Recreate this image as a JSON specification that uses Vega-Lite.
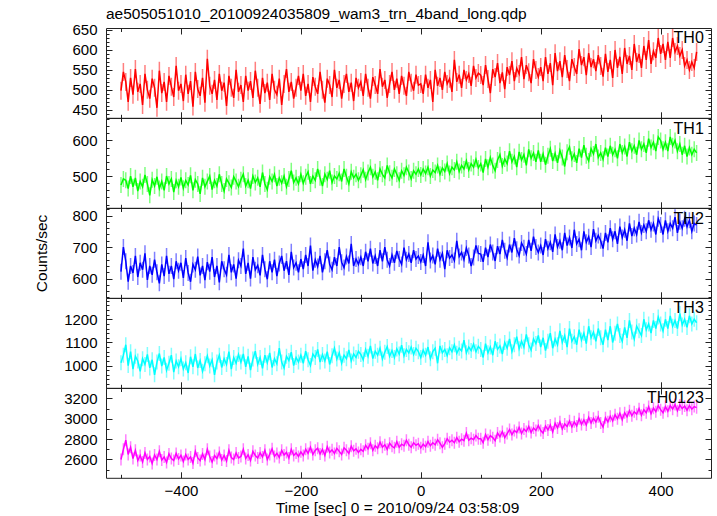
{
"$schema":"https://vega.github.io/schema/vega-lite/v6.json",
"padding":{"left":33,"top":6,"right":5,"bottom":5},
"title":{"text":"ae505051010_20100924035809_wam3_trn_4band_long.qdp","anchor":"start","frame":"group","fontSize":15.5,"fontWeight":"normal","font":"Liberation Sans","color":"black","baseline":"alphabetic","offset":-12},
"config":{"view":{"stroke":"#222","strokeWidth":1},"axis":{"grid":false,"domain":false,"tickColor":"#222","tickWidth":1,"labelColor":"black","labelFont":"Liberation Sans","labelFontSize":15,"titleFont":"Liberation Sans","titleFontSize":15.5,"titleFontWeight":"normal","titleColor":"black","labelFlush":false,"format":"d"}},
"data":{"values":[
{"t":-500,"a":498,"b":475,"c":622,"d":1012,"e":2600},
{"t":-496,"a":545,"b":492,"c":700,"d":1045,"e":2700},
{"t":-492,"a":520,"b":488,"c":655,"d":1090,"e":2790},
{"t":-488,"a":470,"b":465,"c":590,"d":1000,"e":2650},
{"t":-484,"a":530,"b":500,"c":640,"d":1060,"e":2720},
{"t":-480,"a":488,"b":470,"c":618,"d":985,"e":2610},
{"t":-476,"a":552,"b":495,"c":672,"d":1040,"e":2690},
{"t":-472,"a":495,"b":458,"c":605,"d":1020,"e":2590},
{"t":-468,"a":515,"b":485,"c":650,"d":975,"e":2640},
{"t":-464,"a":462,"b":470,"c":628,"d":1030,"e":2575},
{"t":-460,"a":540,"b":503,"c":680,"d":1005,"e":2665},
{"t":-456,"a":500,"b":478,"c":596,"d":1048,"e":2600},
{"t":-452,"a":478,"b":446,"c":640,"d":990,"e":2630},
{"t":-448,"a":528,"b":490,"c":612,"d":1025,"e":2560},
{"t":-444,"a":505,"b":472,"c":660,"d":960,"e":2645},
{"t":-440,"a":455,"b":498,"c":620,"d":1015,"e":2600},
{"t":-436,"a":548,"b":465,"c":585,"d":1052,"e":2680},
{"t":-432,"a":492,"b":485,"c":645,"d":998,"e":2595},
{"t":-428,"a":520,"b":460,"c":608,"d":1035,"e":2625},
{"t":-424,"a":470,"b":500,"c":672,"d":980,"e":2570},
{"t":-420,"a":535,"b":478,"c":615,"d":1010,"e":2655},
{"t":-416,"a":508,"b":492,"c":640,"d":1045,"e":2610},
{"t":-412,"a":482,"b":455,"c":598,"d":972,"e":2590},
{"t":-408,"a":560,"b":488,"c":655,"d":1020,"e":2660},
{"t":-404,"a":498,"b":470,"c":625,"d":995,"e":2605},
{"t":-400,"a":515,"b":496,"c":650,"d":1030,"e":2640},
{"t":-396,"a":472,"b":466,"c":602,"d":985,"e":2580},
{"t":-392,"a":538,"b":488,"c":665,"d":1012,"e":2650},
{"t":-388,"a":490,"b":475,"c":618,"d":968,"e":2600},
{"t":-384,"a":522,"b":502,"c":590,"d":1038,"e":2625},
{"t":-380,"a":458,"b":460,"c":645,"d":995,"e":2565},
{"t":-376,"a":545,"b":490,"c":628,"d":1050,"e":2680},
{"t":-372,"a":502,"b":478,"c":670,"d":990,"e":2615},
{"t":-368,"a":485,"b":450,"c":610,"d":1022,"e":2590},
{"t":-364,"a":530,"b":495,"c":640,"d":975,"e":2655},
{"t":-360,"a":468,"b":470,"c":595,"d":1008,"e":2600},
{"t":-356,"a":578,"b":485,"c":652,"d":1042,"e":2700},
{"t":-352,"a":510,"b":500,"c":622,"d":998,"e":2630},
{"t":-348,"a":490,"b":462,"c":668,"d":1025,"e":2575},
{"t":-344,"a":525,"b":488,"c":605,"d":960,"e":2640},
{"t":-340,"a":475,"b":472,"c":640,"d":1015,"e":2610},
{"t":-336,"a":540,"b":505,"c":588,"d":1045,"e":2670},
{"t":-332,"a":498,"b":478,"c":655,"d":992,"e":2595},
{"t":-328,"a":518,"b":458,"c":630,"d":1030,"e":2640},
{"t":-324,"a":460,"b":492,"c":612,"d":1005,"e":2585},
{"t":-320,"a":535,"b":480,"c":675,"d":1060,"e":2690},
{"t":-316,"a":505,"b":468,"c":620,"d":985,"e":2620},
{"t":-312,"a":480,"b":498,"c":645,"d":1035,"e":2600},
{"t":-308,"a":550,"b":485,"c":600,"d":1010,"e":2665},
{"t":-304,"a":495,"b":470,"c":658,"d":1048,"e":2615},
{"t":-300,"a":512,"b":490,"c":640,"d":1015,"e":2630},
{"t":-296,"a":470,"b":505,"c":695,"d":1050,"e":2700},
{"t":-292,"a":535,"b":472,"c":615,"d":995,"e":2610},
{"t":-288,"a":498,"b":488,"c":650,"d":1040,"e":2645},
{"t":-284,"a":522,"b":465,"c":600,"d":980,"e":2590},
{"t":-280,"a":480,"b":500,"c":668,"d":1028,"e":2680},
{"t":-276,"a":548,"b":482,"c":628,"d":1062,"e":2640},
{"t":-272,"a":505,"b":495,"c":642,"d":1005,"e":2615},
{"t":-268,"a":465,"b":470,"c":610,"d":1035,"e":2665},
{"t":-264,"a":530,"b":510,"c":675,"d":988,"e":2625},
{"t":-260,"a":492,"b":478,"c":630,"d":1045,"e":2690},
{"t":-256,"a":518,"b":462,"c":598,"d":1012,"e":2600},
{"t":-252,"a":475,"b":498,"c":655,"d":1055,"e":2650},
{"t":-248,"a":540,"b":485,"c":620,"d":992,"e":2705},
{"t":-244,"a":500,"b":505,"c":660,"d":1030,"e":2630},
{"t":-240,"a":488,"b":472,"c":608,"d":1008,"e":2660},
{"t":-236,"a":528,"b":495,"c":648,"d":1075,"e":2620},
{"t":-232,"a":462,"b":480,"c":672,"d":1015,"e":2690},
{"t":-228,"a":515,"b":500,"c":625,"d":990,"e":2645},
{"t":-224,"a":552,"b":470,"c":655,"d":1040,"e":2670},
{"t":-220,"a":495,"b":492,"c":612,"d":1022,"e":2615},
{"t":-216,"a":520,"b":515,"c":685,"d":1058,"e":2700},
{"t":-212,"a":478,"b":482,"c":635,"d":1000,"e":2640},
{"t":-208,"a":505,"b":495,"c":650,"d":1035,"e":2665},
{"t":-204,"a":535,"b":478,"c":620,"d":1015,"e":2630},
{"t":-200,"a":498,"b":505,"c":662,"d":1045,"e":2675},
{"t":-196,"a":540,"b":480,"c":630,"d":1010,"e":2640},
{"t":-192,"a":485,"b":498,"c":675,"d":1062,"e":2700},
{"t":-188,"a":515,"b":512,"c":640,"d":1025,"e":2660},
{"t":-184,"a":470,"b":478,"c":705,"d":1000,"e":2720},
{"t":-180,"a":532,"b":500,"c":625,"d":1050,"e":2650},
{"t":-176,"a":508,"b":488,"c":660,"d":1035,"e":2690},
{"t":-172,"a":490,"b":520,"c":638,"d":1070,"e":2710},
{"t":-168,"a":545,"b":495,"c":672,"d":1015,"e":2655},
{"t":-164,"a":500,"b":472,"c":620,"d":1048,"e":2700},
{"t":-160,"a":468,"b":505,"c":655,"d":1020,"e":2640},
{"t":-156,"a":528,"b":490,"c":690,"d":1060,"e":2725},
{"t":-152,"a":512,"b":515,"c":645,"d":1005,"e":2670},
{"t":-148,"a":482,"b":482,"c":628,"d":1042,"e":2695},
{"t":-144,"a":550,"b":500,"c":668,"d":1075,"e":2660},
{"t":-140,"a":505,"b":492,"c":640,"d":1028,"e":2710},
{"t":-136,"a":525,"b":508,"c":700,"d":1055,"e":2680},
{"t":-132,"a":478,"b":485,"c":652,"d":1010,"e":2650},
{"t":-128,"a":515,"b":520,"c":635,"d":1045,"e":2715},
{"t":-124,"a":540,"b":498,"c":670,"d":1030,"e":2690},
{"t":-120,"a":495,"b":478,"c":648,"d":1068,"e":2660},
{"t":-116,"a":518,"b":512,"c":710,"d":1020,"e":2730},
{"t":-112,"a":472,"b":495,"c":640,"d":1050,"e":2685},
{"t":-108,"a":530,"b":505,"c":662,"d":1035,"e":2705},
{"t":-104,"a":505,"b":488,"c":645,"d":1062,"e":2670},
{"t":-100,"a":520,"b":502,"c":668,"d":1048,"e":2700},
{"t":-96,"a":485,"b":518,"c":640,"d":1025,"e":2680},
{"t":-92,"a":540,"b":490,"c":685,"d":1070,"e":2740},
{"t":-88,"a":505,"b":510,"c":655,"d":1040,"e":2705},
{"t":-84,"a":478,"b":525,"c":695,"d":1085,"e":2760},
{"t":-80,"a":532,"b":498,"c":648,"d":1030,"e":2690},
{"t":-76,"a":512,"b":512,"c":672,"d":1062,"e":2735},
{"t":-72,"a":490,"b":488,"c":640,"d":1045,"e":2710},
{"t":-68,"a":552,"b":520,"c":690,"d":1075,"e":2770},
{"t":-64,"a":508,"b":505,"c":655,"d":1028,"e":2720},
{"t":-60,"a":525,"b":495,"c":700,"d":1058,"e":2745},
{"t":-56,"a":480,"b":530,"c":660,"d":1082,"e":2700},
{"t":-52,"a":515,"b":508,"c":640,"d":1040,"e":2760},
{"t":-48,"a":545,"b":495,"c":675,"d":1065,"e":2730},
{"t":-44,"a":500,"b":520,"c":650,"d":1035,"e":2715},
{"t":-40,"a":528,"b":505,"c":688,"d":1072,"e":2775},
{"t":-36,"a":490,"b":488,"c":662,"d":1050,"e":2720},
{"t":-32,"a":535,"b":515,"c":645,"d":1088,"e":2750},
{"t":-28,"a":510,"b":502,"c":698,"d":1042,"e":2735},
{"t":-24,"a":485,"b":525,"c":660,"d":1070,"e":2790},
{"t":-20,"a":545,"b":510,"c":678,"d":1055,"e":2745},
{"t":-16,"a":518,"b":492,"c":650,"d":1080,"e":2720},
{"t":-12,"a":498,"b":515,"c":690,"d":1048,"e":2765},
{"t":-8,"a":538,"b":505,"c":662,"d":1075,"e":2740},
{"t":-4,"a":512,"b":520,"c":672,"d":1060,"e":2755},
{"t":0,"a":515,"b":503,"c":653,"d":1035,"e":2715},
{"t":4,"a":490,"b":520,"c":675,"d":1067,"e":2750},
{"t":8,"a":538,"b":507,"c":640,"d":1045,"e":2725},
{"t":12,"a":505,"b":525,"c":715,"d":1080,"e":2775},
{"t":16,"a":525,"b":500,"c":657,"d":1030,"e":2735},
{"t":20,"a":470,"b":517,"c":673,"d":1060,"e":2765},
{"t":24,"a":550,"b":510,"c":645,"d":1075,"e":2745},
{"t":28,"a":510,"b":530,"c":695,"d":1010,"e":2795},
{"t":32,"a":530,"b":505,"c":660,"d":1085,"e":2760},
{"t":36,"a":500,"b":523,"c":680,"d":1055,"e":2720},
{"t":40,"a":545,"b":513,"c":630,"d":1070,"e":2755},
{"t":44,"a":515,"b":535,"c":690,"d":1043,"e":2805},
{"t":48,"a":528,"b":507,"c":665,"d":1077,"e":2770},
{"t":52,"a":495,"b":525,"c":675,"d":1060,"e":2790},
{"t":56,"a":575,"b":517,"c":657,"d":1090,"e":2765},
{"t":60,"a":520,"b":540,"c":720,"d":1053,"e":2815},
{"t":64,"a":538,"b":513,"c":670,"d":1075,"e":2775},
{"t":68,"a":505,"b":530,"c":683,"d":1063,"e":2800},
{"t":72,"a":550,"b":520,"c":660,"d":1110,"e":2785},
{"t":76,"a":525,"b":543,"c":697,"d":1055,"e":2860},
{"t":80,"a":540,"b":517,"c":673,"d":1080,"e":2790},
{"t":84,"a":510,"b":535,"c":640,"d":1065,"e":2810},
{"t":88,"a":560,"b":525,"c":667,"d":1093,"e":2795},
{"t":92,"a":530,"b":547,"c":705,"d":1060,"e":2835},
{"t":96,"a":542,"b":523,"c":680,"d":1083,"e":2805},
{"t":100,"a":537,"b":535,"c":678,"d":1070,"e":2805},
{"t":104,"a":512,"b":510,"c":653,"d":1035,"e":2765},
{"t":108,"a":562,"b":548,"c":698,"d":1095,"e":2845},
{"t":112,"a":527,"b":525,"c":668,"d":1055,"e":2795},
{"t":116,"a":492,"b":552,"c":708,"d":1080,"e":2835},
{"t":120,"a":552,"b":530,"c":683,"d":1045,"e":2815},
{"t":124,"a":532,"b":515,"c":656,"d":1105,"e":2785},
{"t":128,"a":567,"b":545,"c":703,"d":1070,"e":2860},
{"t":132,"a":517,"b":560,"c":678,"d":1085,"e":2825},
{"t":136,"a":544,"b":528,"c":723,"d":1050,"e":2875},
{"t":140,"a":502,"b":548,"c":688,"d":1100,"e":2815},
{"t":144,"a":557,"b":535,"c":666,"d":1075,"e":2855},
{"t":148,"a":537,"b":570,"c":708,"d":1115,"e":2895},
{"t":152,"a":572,"b":540,"c":683,"d":1060,"e":2845},
{"t":156,"a":522,"b":555,"c":728,"d":1090,"e":2885},
{"t":160,"a":554,"b":525,"c":693,"d":1125,"e":2865},
{"t":164,"a":540,"b":568,"c":673,"d":1073,"e":2915},
{"t":168,"a":582,"b":545,"c":713,"d":1105,"e":2855},
{"t":172,"a":527,"b":560,"c":698,"d":1080,"e":2900},
{"t":176,"a":562,"b":530,"c":678,"d":1135,"e":2875},
{"t":180,"a":544,"b":575,"c":723,"d":1090,"e":2925},
{"t":184,"a":517,"b":550,"c":688,"d":1067,"e":2865},
{"t":188,"a":577,"b":565,"c":733,"d":1115,"e":2910},
{"t":192,"a":550,"b":540,"c":700,"d":1095,"e":2885},
{"t":196,"a":532,"b":572,"c":683,"d":1130,"e":2935},
{"t":200,"a":557,"b":540,"c":705,"d":1080,"e":2885},
{"t":204,"a":522,"b":562,"c":675,"d":1120,"e":2860},
{"t":208,"a":582,"b":532,"c":725,"d":1065,"e":2930},
{"t":212,"a":540,"b":557,"c":695,"d":1105,"e":2890},
{"t":216,"a":567,"b":577,"c":715,"d":1140,"e":2940},
{"t":220,"a":512,"b":542,"c":685,"d":1075,"e":2870},
{"t":224,"a":592,"b":564,"c":740,"d":1115,"e":2955},
{"t":228,"a":547,"b":537,"c":700,"d":1090,"e":2910},
{"t":232,"a":572,"b":572,"c":720,"d":1150,"e":2970},
{"t":236,"a":532,"b":552,"c":690,"d":1100,"e":2900},
{"t":240,"a":587,"b":527,"c":745,"d":1130,"e":2950},
{"t":244,"a":552,"b":567,"c":705,"d":1080,"e":2925},
{"t":248,"a":522,"b":582,"c":730,"d":1160,"e":2980},
{"t":252,"a":577,"b":547,"c":697,"d":1105,"e":2920},
{"t":256,"a":557,"b":562,"c":755,"d":1125,"e":2970},
{"t":260,"a":540,"b":537,"c":710,"d":1090,"e":2930},
{"t":264,"a":602,"b":577,"c":725,"d":1155,"e":3000},
{"t":268,"a":562,"b":552,"c":690,"d":1110,"e":2945},
{"t":272,"a":582,"b":587,"c":750,"d":1140,"e":2990},
{"t":276,"a":537,"b":557,"c":715,"d":1095,"e":2940},
{"t":280,"a":592,"b":542,"c":733,"d":1170,"e":3015},
{"t":284,"a":557,"b":577,"c":700,"d":1120,"e":2960},
{"t":288,"a":577,"b":562,"c":757,"d":1145,"e":3005},
{"t":292,"a":547,"b":590,"c":720,"d":1105,"e":2970},
{"t":296,"a":587,"b":552,"c":737,"d":1160,"e":3020},
{"t":300,"a":560,"b":565,"c":720,"d":1120,"e":2960},
{"t":304,"a":533,"b":547,"c":695,"d":1090,"e":2920},
{"t":308,"a":590,"b":580,"c":745,"d":1155,"e":3010},
{"t":312,"a":545,"b":555,"c":715,"d":1110,"e":2970},
{"t":316,"a":575,"b":585,"c":760,"d":1170,"e":3025},
{"t":320,"a":530,"b":560,"c":725,"d":1100,"e":2980},
{"t":324,"a":600,"b":575,"c":750,"d":1140,"e":3040},
{"t":328,"a":555,"b":550,"c":710,"d":1180,"e":3000},
{"t":332,"a":583,"b":590,"c":765,"d":1130,"e":3055},
{"t":336,"a":540,"b":565,"c":730,"d":1105,"e":2990},
{"t":340,"a":605,"b":583,"c":755,"d":1165,"e":3060},
{"t":344,"a":565,"b":555,"c":720,"d":1120,"e":3020},
{"t":348,"a":585,"b":595,"c":775,"d":1195,"e":3080},
{"t":352,"a":550,"b":570,"c":735,"d":1145,"e":3030},
{"t":356,"a":615,"b":585,"c":760,"d":1115,"e":3070},
{"t":360,"a":570,"b":560,"c":740,"d":1170,"e":3045},
{"t":364,"a":590,"b":600,"c":780,"d":1150,"e":3100},
{"t":368,"a":555,"b":575,"c":745,"d":1130,"e":3035},
{"t":372,"a":610,"b":590,"c":770,"d":1200,"e":3090},
{"t":376,"a":575,"b":565,"c":750,"d":1155,"e":3060},
{"t":380,"a":625,"b":605,"c":785,"d":1180,"e":3120},
{"t":384,"a":565,"b":580,"c":755,"d":1140,"e":3050},
{"t":388,"a":597,"b":595,"c":775,"d":1195,"e":3105},
{"t":392,"a":580,"b":570,"c":740,"d":1160,"e":3070},
{"t":396,"a":630,"b":610,"c":790,"d":1210,"e":3130},
{"t":400,"a":590,"b":600,"c":770,"d":1180,"e":3090},
{"t":404,"a":615,"b":575,"c":740,"d":1150,"e":3060},
{"t":408,"a":575,"b":595,"c":785,"d":1200,"e":3120},
{"t":412,"a":620,"b":570,"c":750,"d":1160,"e":3075},
{"t":416,"a":580,"b":610,"c":775,"d":1215,"e":3130},
{"t":420,"a":630,"b":585,"c":760,"d":1170,"e":3095},
{"t":424,"a":595,"b":600,"c":795,"d":1195,"e":3140},
{"t":428,"a":610,"b":570,"c":745,"d":1160,"e":3080},
{"t":432,"a":585,"b":590,"c":780,"d":1225,"e":3135},
{"t":436,"a":600,"b":560,"c":760,"d":1175,"e":3100},
{"t":440,"a":560,"b":585,"c":790,"d":1200,"e":3125},
{"t":444,"a":575,"b":555,"c":765,"d":1165,"e":3085},
{"t":448,"a":550,"b":580,"c":785,"d":1215,"e":3130},
{"t":452,"a":570,"b":560,"c":750,"d":1180,"e":3095},
{"t":456,"a":555,"b":575,"c":775,"d":1200,"e":3120},
{"t":460,"a":595,"b":565,"c":770,"d":1185,"e":3110}
]},
"spacing":0,
"bounds":"flush",
"vconcat":[
{"width":605,"height":89.8,
"layer":[
{"mark":{"type":"tick","orient":"vertical","color":"#ff0000","size":18,"thickness":1.5,"opacity":0.5,"clip":true},
"encoding":{"x":{"field":"t","type":"quantitative","scale":{"domain":[-525,484],"nice":false,"zero":false},"axis":{"orient":"top","values":[-400,-200,0,200,400],"labels":false,"tickSize":-6,"title":null}},
"y":{"field":"a","type":"quantitative","scale":{"domain":[430,655],"nice":false,"zero":false},"axis":{"orient":"right","values":[450,500,550,600,650],"labels":false,"tickSize":-6,"title":null}}}},
{"mark":{"type":"line","color":"#ff0000","strokeWidth":1.5,"clip":true},
"encoding":{"x":{"field":"t","type":"quantitative","scale":{"domain":[-525,484],"nice":false,"zero":false},"axis":{"orient":"bottom","values":[-400,-200,0,200,400],"labels":false,"tickSize":-6,"title":null}},
"y":{"field":"a","type":"quantitative","scale":{"domain":[430,655],"nice":false,"zero":false},"axis":{"orient":"left","values":[450,500,550,600,650],"tickSize":-6,"labelPadding":15,"title":null}}}},
{"mark":{"type":"line","opacity":0},
"encoding":{"x":{"field":"t","type":"quantitative","scale":{"domain":[-525,484],"nice":false,"zero":false},"axis":{"orient":"bottom","values":[-500,-300,-100,100,300],"labels":false,"tickSize":-3.5,"title":null}},
"y":{"field":"a","type":"quantitative","scale":{"domain":[430,655],"nice":false,"zero":false},"axis":{"orient":"left","values":[440,460,470,480,490,510,520,530,540,560,570,580,590,610,620,630,640],"labels":false,"tickSize":-3,"title":null}}}},
{"mark":{"type":"line","opacity":0},
"encoding":{"x":{"field":"t","type":"quantitative","scale":{"domain":[-525,484],"nice":false,"zero":false},"axis":{"orient":"top","values":[-500,-300,-100,100,300],"labels":false,"tickSize":-3.5,"title":null}},
"y":{"field":"a","type":"quantitative","scale":{"domain":[430,655],"nice":false,"zero":false},"axis":{"orient":"right","values":[440,460,470,480,490,510,520,530,540,560,570,580,590,610,620,630,640],"labels":false,"tickSize":-3,"title":null}}}},
{"data":{"values":[{"label":"TH0"}]},
"mark":{"type":"text","align":"right","baseline":"middle","fontSize":16,"font":"Liberation Sans","color":"black"},
"encoding":{"x":{"datum":472,"type":"quantitative","scale":{"domain":[-525,484],"nice":false,"zero":false},"axis":null},
"y":{"datum":629,"type":"quantitative","scale":{"domain":[430,655],"nice":false,"zero":false},"axis":null},
"text":{"field":"label"}}}
],
"resolve":{"axis":{"x":"independent","y":"independent"}}},
{"width":605,"height":89.8,
"layer":[
{"mark":{"type":"tick","orient":"vertical","color":"#00ff00","size":16,"thickness":1.5,"opacity":0.5,"clip":true},
"encoding":{"x":{"field":"t","type":"quantitative","scale":{"domain":[-525,484],"nice":false,"zero":false},"axis":{"orient":"top","values":[-400,-200,0,200,400],"labels":false,"tickSize":-6,"title":null}},
"y":{"field":"b","type":"quantitative","scale":{"domain":[411,663],"nice":false,"zero":false},"axis":{"orient":"right","values":[500,600],"labels":false,"tickSize":-6,"title":null}}}},
{"mark":{"type":"line","color":"#00ff00","strokeWidth":1.5,"clip":true},
"encoding":{"x":{"field":"t","type":"quantitative","scale":{"domain":[-525,484],"nice":false,"zero":false},"axis":{"orient":"bottom","values":[-400,-200,0,200,400],"labels":false,"tickSize":-6,"title":null}},
"y":{"field":"b","type":"quantitative","scale":{"domain":[411,663],"nice":false,"zero":false},"axis":{"orient":"left","values":[500,600],"tickSize":-6,"labelPadding":15,"title":null}}}},
{"mark":{"type":"line","opacity":0},
"encoding":{"x":{"field":"t","type":"quantitative","scale":{"domain":[-525,484],"nice":false,"zero":false},"axis":{"orient":"bottom","values":[-500,-300,-100,100,300],"labels":false,"tickSize":-3.5,"title":null}},
"y":{"field":"b","type":"quantitative","scale":{"domain":[411,663],"nice":false,"zero":false},"axis":{"orient":"left","values":[420,440,460,480,520,540,560,580,620,640,660],"labels":false,"tickSize":-3,"title":null}}}},
{"mark":{"type":"line","opacity":0},
"encoding":{"x":{"field":"t","type":"quantitative","scale":{"domain":[-525,484],"nice":false,"zero":false},"axis":{"orient":"top","values":[-500,-300,-100,100,300],"labels":false,"tickSize":-3.5,"title":null}},
"y":{"field":"b","type":"quantitative","scale":{"domain":[411,663],"nice":false,"zero":false},"axis":{"orient":"right","values":[420,440,460,480,520,540,560,580,620,640,660],"labels":false,"tickSize":-3,"title":null}}}},
{"data":{"values":[{"label":"TH1"}]},
"mark":{"type":"text","align":"right","baseline":"middle","fontSize":16,"font":"Liberation Sans","color":"black"},
"encoding":{"x":{"datum":472,"type":"quantitative","scale":{"domain":[-525,484],"nice":false,"zero":false},"axis":null},
"y":{"datum":633,"type":"quantitative","scale":{"domain":[411,663],"nice":false,"zero":false},"axis":null},
"text":{"field":"label"}}}
],
"resolve":{"axis":{"x":"independent","y":"independent"}}},
{"width":605,"height":89.8,
"layer":[
{"mark":{"type":"tick","orient":"vertical","color":"#0000ff","size":16,"thickness":1.5,"opacity":0.5,"clip":true},
"encoding":{"x":{"field":"t","type":"quantitative","scale":{"domain":[-525,484],"nice":false,"zero":false},"axis":{"orient":"top","values":[-400,-200,0,200,400],"labels":false,"tickSize":-6,"title":null}},
"y":{"field":"c","type":"quantitative","scale":{"domain":[539,824],"nice":false,"zero":false},"axis":{"orient":"right","values":[600,700,800],"labels":false,"tickSize":-6,"title":null}}}},
{"mark":{"type":"line","color":"#0000ff","strokeWidth":1.5,"clip":true},
"encoding":{"x":{"field":"t","type":"quantitative","scale":{"domain":[-525,484],"nice":false,"zero":false},"axis":{"orient":"bottom","values":[-400,-200,0,200,400],"labels":false,"tickSize":-6,"title":null}},
"y":{"field":"c","type":"quantitative","scale":{"domain":[539,824],"nice":false,"zero":false},"axis":{"orient":"left","values":[600,700,800],"tickSize":-6,"labelPadding":15,"title":"Counts/sec","titleX":-60,"titleY":44.9,"titleBaseline":"alphabetic"}}}},
{"mark":{"type":"line","opacity":0},
"encoding":{"x":{"field":"t","type":"quantitative","scale":{"domain":[-525,484],"nice":false,"zero":false},"axis":{"orient":"bottom","values":[-500,-300,-100,100,300],"labels":false,"tickSize":-3.5,"title":null}},
"y":{"field":"c","type":"quantitative","scale":{"domain":[539,824],"nice":false,"zero":false},"axis":{"orient":"left","values":[540,560,580,620,640,660,680,720,740,760,780,820],"labels":false,"tickSize":-3,"title":null}}}},
{"mark":{"type":"line","opacity":0},
"encoding":{"x":{"field":"t","type":"quantitative","scale":{"domain":[-525,484],"nice":false,"zero":false},"axis":{"orient":"top","values":[-500,-300,-100,100,300],"labels":false,"tickSize":-3.5,"title":null}},
"y":{"field":"c","type":"quantitative","scale":{"domain":[539,824],"nice":false,"zero":false},"axis":{"orient":"right","values":[540,560,580,620,640,660,680,720,740,760,780,820],"labels":false,"tickSize":-3,"title":null}}}},
{"data":{"values":[{"label":"TH2"}]},
"mark":{"type":"text","align":"right","baseline":"middle","fontSize":16,"font":"Liberation Sans","color":"black"},
"encoding":{"x":{"datum":472,"type":"quantitative","scale":{"domain":[-525,484],"nice":false,"zero":false},"axis":null},
"y":{"datum":790,"type":"quantitative","scale":{"domain":[539,824],"nice":false,"zero":false},"axis":null},
"text":{"field":"label"}}}
],
"resolve":{"axis":{"x":"independent","y":"independent"}}},
{"width":605,"height":89.8,
"layer":[
{"mark":{"type":"tick","orient":"vertical","color":"#00ffff","size":15,"thickness":1.5,"opacity":0.5,"clip":true},
"encoding":{"x":{"field":"t","type":"quantitative","scale":{"domain":[-525,484],"nice":false,"zero":false},"axis":{"orient":"top","values":[-400,-200,0,200,400],"labels":false,"tickSize":-6,"title":null}},
"y":{"field":"d","type":"quantitative","scale":{"domain":[904,1292],"nice":false,"zero":false},"axis":{"orient":"right","values":[1000,1100,1200],"labels":false,"tickSize":-6,"title":null}}}},
{"mark":{"type":"line","color":"#00ffff","strokeWidth":1.5,"clip":true},
"encoding":{"x":{"field":"t","type":"quantitative","scale":{"domain":[-525,484],"nice":false,"zero":false},"axis":{"orient":"bottom","values":[-400,-200,0,200,400],"labels":false,"tickSize":-6,"title":null}},
"y":{"field":"d","type":"quantitative","scale":{"domain":[904,1292],"nice":false,"zero":false},"axis":{"orient":"left","values":[1000,1100,1200],"tickSize":-6,"labelPadding":15,"title":null}}}},
{"mark":{"type":"line","opacity":0},
"encoding":{"x":{"field":"t","type":"quantitative","scale":{"domain":[-525,484],"nice":false,"zero":false},"axis":{"orient":"bottom","values":[-500,-300,-100,100,300],"labels":false,"tickSize":-3.5,"title":null}},
"y":{"field":"d","type":"quantitative","scale":{"domain":[904,1292],"nice":false,"zero":false},"axis":{"orient":"left","values":[920,940,960,980,1020,1040,1060,1080,1120,1140,1160,1180,1220,1240,1260,1280],"labels":false,"tickSize":-3,"title":null}}}},
{"mark":{"type":"line","opacity":0},
"encoding":{"x":{"field":"t","type":"quantitative","scale":{"domain":[-525,484],"nice":false,"zero":false},"axis":{"orient":"top","values":[-500,-300,-100,100,300],"labels":false,"tickSize":-3.5,"title":null}},
"y":{"field":"d","type":"quantitative","scale":{"domain":[904,1292],"nice":false,"zero":false},"axis":{"orient":"right","values":[920,940,960,980,1020,1040,1060,1080,1120,1140,1160,1180,1220,1240,1260,1280],"labels":false,"tickSize":-3,"title":null}}}},
{"data":{"values":[{"label":"TH3"}]},
"mark":{"type":"text","align":"right","baseline":"middle","fontSize":16,"font":"Liberation Sans","color":"black"},
"encoding":{"x":{"datum":472,"type":"quantitative","scale":{"domain":[-525,484],"nice":false,"zero":false},"axis":null},
"y":{"datum":1247,"type":"quantitative","scale":{"domain":[904,1292],"nice":false,"zero":false},"axis":null},
"text":{"field":"label"}}}
],
"resolve":{"axis":{"x":"independent","y":"independent"}}},
{"width":605,"height":89.8,
"layer":[
{"mark":{"type":"tick","orient":"vertical","color":"#ff00ff","size":12,"thickness":1.5,"opacity":0.5,"clip":true},
"encoding":{"x":{"field":"t","type":"quantitative","scale":{"domain":[-525,484],"nice":false,"zero":false},"axis":{"orient":"top","values":[-400,-200,0,200,400],"labels":false,"tickSize":-6,"title":null}},
"y":{"field":"e","type":"quantitative","scale":{"domain":[2420,3303],"nice":false,"zero":false},"axis":{"orient":"right","values":[2600,2800,3000,3200],"labels":false,"tickSize":-6,"title":null}}}},
{"mark":{"type":"line","color":"#ff00ff","strokeWidth":1.5,"clip":true},
"encoding":{"x":{"field":"t","type":"quantitative","scale":{"domain":[-525,484],"nice":false,"zero":false},"axis":{"orient":"bottom","values":[-400,-200,0,200,400],"tickSize":-6,"labelPadding":12,"title":"Time [sec] 0 = 2010/09/24 03:58:09","titleX":291,"titleY":35,"titleBaseline":"alphabetic"}},
"y":{"field":"e","type":"quantitative","scale":{"domain":[2420,3303],"nice":false,"zero":false},"axis":{"orient":"left","values":[2600,2800,3000,3200],"tickSize":-6,"labelPadding":15,"title":null}}}},
{"mark":{"type":"line","opacity":0},
"encoding":{"x":{"field":"t","type":"quantitative","scale":{"domain":[-525,484],"nice":false,"zero":false},"axis":{"orient":"bottom","values":[-500,-300,-100,100,300],"labels":false,"tickSize":-3.5,"title":null}},
"y":{"field":"e","type":"quantitative","scale":{"domain":[2420,3303],"nice":false,"zero":false},"axis":{"orient":"left","values":[2500,2700,2900,3100,3300],"labels":false,"tickSize":-3,"title":null}}}},
{"mark":{"type":"line","opacity":0},
"encoding":{"x":{"field":"t","type":"quantitative","scale":{"domain":[-525,484],"nice":false,"zero":false},"axis":{"orient":"top","values":[-500,-300,-100,100,300],"labels":false,"tickSize":-3.5,"title":null}},
"y":{"field":"e","type":"quantitative","scale":{"domain":[2420,3303],"nice":false,"zero":false},"axis":{"orient":"right","values":[2500,2700,2900,3100,3300],"labels":false,"tickSize":-3,"title":null}}}},
{"data":{"values":[{"label":"TH0123"}]},
"mark":{"type":"text","align":"right","baseline":"middle","fontSize":16,"font":"Liberation Sans","color":"black"},
"encoding":{"x":{"datum":472,"type":"quantitative","scale":{"domain":[-525,484],"nice":false,"zero":false},"axis":null},
"y":{"datum":3202,"type":"quantitative","scale":{"domain":[2420,3303],"nice":false,"zero":false},"axis":null},
"text":{"field":"label"}}}
],
"resolve":{"axis":{"x":"independent","y":"independent"}}}
]
}
